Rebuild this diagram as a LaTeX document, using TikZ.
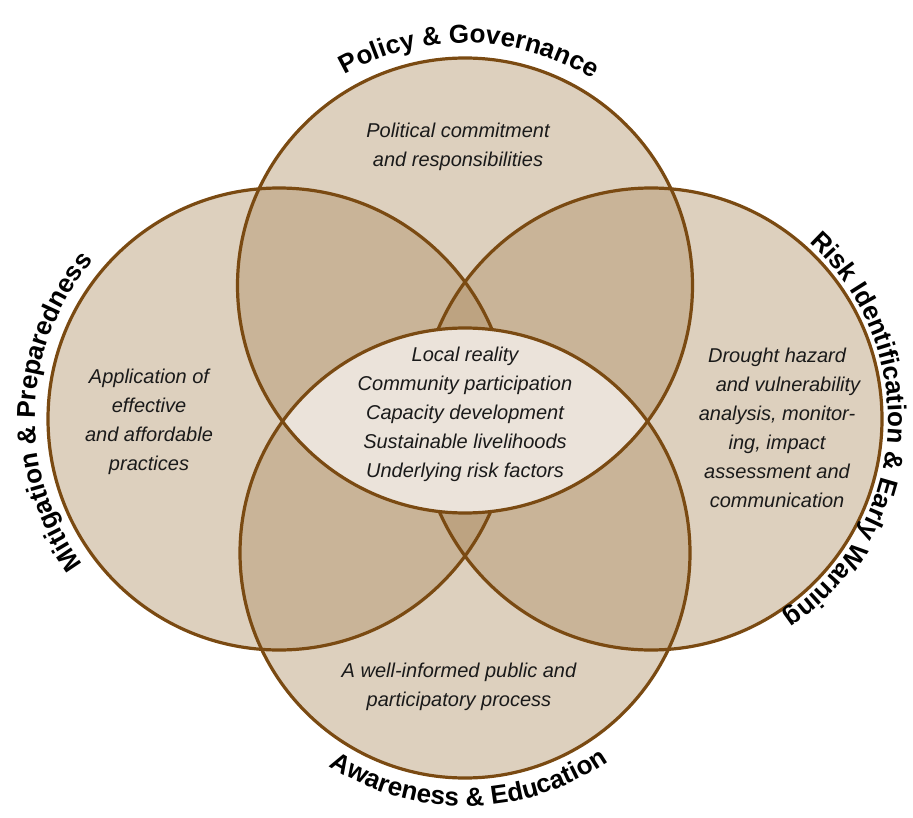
\documentclass[tikz,border=0pt]{standalone}
\usepackage{fontspec}
\setmainfont{Liberation Sans}
\setsansfont{Liberation Sans}
\usetikzlibrary{decorations.text}
\definecolor{ink}{HTML}{1A1A1A}
\definecolor{rim}{HTML}{7A4A12}
\definecolor{sand}{HTML}{AC8C61}
\definecolor{core}{HTML}{EBE3DA}
\newcommand\arcfont{\sffamily\bfseries\fontsize{13}{15}\selectfont}
\tikzset{
  every node/.style={font=\sffamily},
  disc/.style={fill=sand, fill opacity=0.41},
  ring/.style={draw=rim, line width=1.6pt},
  note/.style={font=\sffamily\itshape\fontsize{10}{14.5}\selectfont, text=ink, align=center, inner sep=0pt},
  arclabel/.style={decorate, decoration={text along path, text align=center, text={|\arcfont|#1}}},
}

\begin{document}
\begin{tikzpicture}[x=0.5pt, y=0.5pt]
\useasboundingbox (0,0) rectangle (913,-817);
\coordinate (ctop) at (465,-285.5);
\coordinate (cleft) at (279,-419);
\coordinate (cright) at (651,-419);
\coordinate (cbot) at (465,-553);

\fill[disc] (ctop) circle[radius=227.5];
\fill[disc] (cleft) circle[radius=231];
\fill[disc] (cright) circle[radius=231];
\fill[disc] (cbot) circle[radius=225];
\draw[ring] (cleft) circle[radius=231];
\draw[ring] (cright) circle[radius=231];

\begin{scope}
  \clip (ctop) circle[radius=227.5];
  \fill[core] (cbot) circle[radius=225];
\end{scope}
\draw[ring] (ctop) circle[radius=227.5];
\draw[ring] (cbot) circle[radius=225];

\node[note] (politics) at (458,-147) {Political commitment\\and responsibilities};
\node[note] (practices) at (149,-422) {Application of\\effective\\and affordable\\practices};
\node[note] (hazard) at (777,-428) {Drought hazard\\\hspace*{11pt}and vulnerability\\analysis, monitor-\\ing, impact\\assessment and\\communication};
\node[note] (public) at (459,-687) {A well-informed public and\\participatory process};
\node[note] (local) at (465,-414) {Local reality\\Community participation\\Capacity development\\Sustainable livelihoods\\Underlying risk factors};

\path[arclabel={Policy {\&} Governance}] (ctop) ++(150:242.5) arc[start angle=150, end angle=28, radius=242.5];
\path[arclabel={Mitigation {\&} Preparedness}] (cleft) ++(250:244) arc[start angle=250, end angle=106, radius=244];
\path[arclabel={Risk Identification {\&} Early Warning}] (cright) ++(70:237) arc[start angle=70, end angle=-78, radius=237];
\path[arclabel={Awareness {\&} Education}] (cbot) ++(200:253) arc[start angle=200, end angle=342, radius=253];
\end{tikzpicture}
\end{document}
